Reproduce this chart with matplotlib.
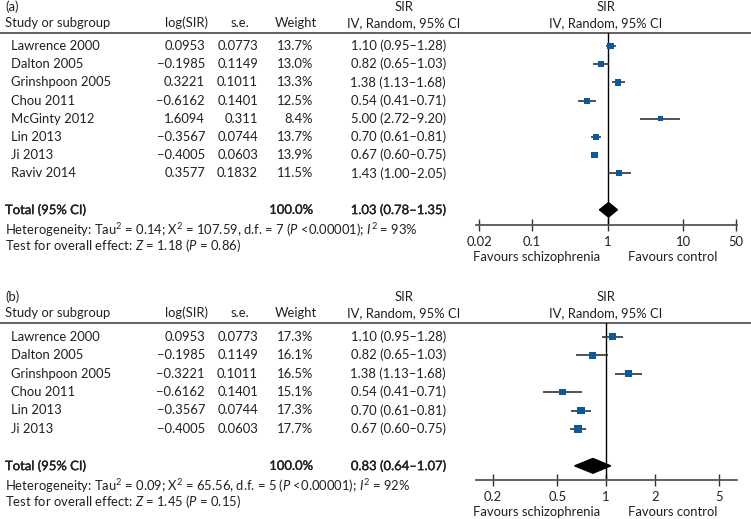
import numpy as np
import matplotlib.pyplot as plt
import matplotlib.patheffects as pe
from matplotlib.patches import Polygon

plt.rcParams['font.family'] = ['Lato', 'DejaVu Sans']
plt.rcParams['mathtext.fontset'] = 'custom'
plt.rcParams['mathtext.rm'] = 'Lato'
plt.rcParams['mathtext.it'] = 'Lato:italic'

# ---- data, panel (a)
studies_a = ['Lawrence 2000', 'Dalton 2005', 'Grinshpoon 2005', 'Chou 2011',
             'McGinty 2012', 'Lin 2013', 'Ji 2013', 'Raviv 2014']
logsir_a = ['0.0953', '\u22120.1985', '0.3221', '\u22120.6162', '1.6094', '\u22120.3567', '\u22120.4005', '0.3577']
se_a = ['0.0773', '0.1149', '0.1011', '0.1401', '0.311', '0.0744', '0.0603', '0.1832']
weight_a = [13.7, 13.0, 13.3, 12.5, 8.4, 13.7, 13.9, 11.5]
sir_a = [1.10, 0.82, 1.38, 0.54, 5.00, 0.70, 0.67, 1.43]
lo_a = [0.95, 0.65, 1.13, 0.41, 2.72, 0.61, 0.60, 1.00]
hi_a = [1.28, 1.03, 1.68, 0.71, 9.20, 0.81, 0.75, 2.05]
total_a = (1.03, 0.78, 1.35)
het_a = 'Heterogeneity: Tau$^2$ = 0.14; X$^2$ = 107.59, d.f. = 7 ($P$ <0.00001); $I^2$ = 93%'
test_a = 'Test for overall effect: $Z$ = 1.18 ($P$ = 0.86)'
ticks_a = [0.02, 0.1, 1, 10, 50]
ticklabels_a = ['0.02', '0.1', '1', '10', '50']

# ---- data, panel (b)
studies_b = ['Lawrence 2000', 'Dalton 2005', 'Grinshpoon 2005', 'Chou 2011', 'Lin 2013', 'Ji 2013']
logsir_b = ['0.0953', '\u22120.1985', '\u22120.3221', '\u22120.6162', '\u22120.3567', '\u22120.4005']
se_b = ['0.0773', '0.1149', '0.1011', '0.1401', '0.0744', '0.0603']
weight_b = [17.3, 16.1, 16.5, 15.1, 17.3, 17.7]
sir_b = [1.10, 0.82, 1.38, 0.54, 0.70, 0.67]
lo_b = [0.95, 0.65, 1.13, 0.41, 0.61, 0.60]
hi_b = [1.28, 1.03, 1.68, 0.71, 0.81, 0.75]
total_b = (0.83, 0.64, 1.07)
het_b = 'Heterogeneity: Tau$^2$ = 0.09; X$^2$ = 65.56, d.f. = 5 ($P$ <0.00001); $I^2$ = 92%'
test_b = 'Test for overall effect: $Z$ = 1.45 ($P$ = 0.15)'
ticks_b = [0.2, 0.5, 1, 2, 5]
ticklabels_b = ['0.2', '0.5', '1', '2', '5']

W, H = 751, 519
TXT = '#231f20'
BLUE = '#0b5a9e'
FS = 9.4
MEDIUM = [pe.withStroke(linewidth=0.25, foreground=TXT)]  # fake a medium weight

fig = plt.figure(figsize=(W / 100, H / 100), dpi=100)
bg = fig.add_axes([0, 0, 1, 1])
bg.set_xlim(0, W)
bg.set_ylim(H, 0)
bg.axis('off')


def t(x, y, s, ha='left', **kw):
    bg.text(x, y, s, ha=ha, va='center', fontsize=FS, color=TXT, **kw)


def panel(label, top, row0, step, names, logs, ses, wts, est, lo, hi, tot,
          het, test, ticks, tlabels, xlim, axis_y):
    # headers
    t(5, top, label)
    t(404, top, 'SIR', ha='center')
    t(606, top, 'SIR', ha='center')
    hy = top + 16
    t(5, hy, 'Study or subgroup')
    t(208, hy, 'log(SIR)', ha='right')
    t(240, hy, 's.e.', ha='center')
    t(317, hy, 'Weight', ha='right')
    t(404, hy, 'IV, Random, 95% CI', ha='center')
    t(606, hy, 'IV, Random, 95% CI', ha='center')
    line_y = hy + 9.5
    bg.plot([0, W], [line_y, line_y], color='#555555', lw=1.3)

    n = len(names)
    for i in range(n):
        y = row0 + i * step
        t(11, y, names[i])
        t(205, y, logs[i], ha='right')
        t(258, y, ses[i], ha='right')
        t(313, y, f'{wts[i]:.1f}%', ha='right')
        t(446, y, f'{est[i]:.2f} ({lo[i]:.2f}\u2013{hi[i]:.2f})', ha='right')
    ty = row0 + (n + 1) * step
    t(5, ty, 'Total (95% CI)', path_effects=MEDIUM)
    t(313, ty, '100.0%', ha='right', path_effects=MEDIUM)
    t(446, ty, f'{tot[0]:.2f} ({tot[1]:.2f}\u2013{tot[2]:.2f})', ha='right', path_effects=MEDIUM)
    t(5, ty + 20, het)
    t(5, ty + 36, test)

    # forest axes
    x0, x1 = 476, 737
    ax = fig.add_axes([x0 / W, 1 - axis_y / H, (x1 - x0) / W, (axis_y - line_y) / H])
    ax.set_xscale('log')
    ax.set_xlim(*xlim)
    ax.set_ylim((axis_y - row0) / step, (line_y - row0) / step)
    ax.patch.set_visible(False)
    for s in ['top', 'left', 'right']:
        ax.spines[s].set_visible(False)
    ax.spines['bottom'].set_color('#555555')
    ax.spines['bottom'].set_linewidth(1.3)
    ax.set_yticks([])
    ax.xaxis.set_minor_locator(plt.NullLocator())
    ax.set_xticks(ticks)
    ax.set_xticklabels(tlabels, fontsize=FS, color=TXT)
    ax.tick_params(axis='x', direction='inout', length=8, width=1, color='#333333', pad=4)
    ax.axvline(1, color='black', lw=1)
    yy = np.arange(n)
    ax.hlines(yy, lo, hi, color='#333333', lw=1.2)
    ax.scatter(est, yy, marker='s', s=[(1.25 * np.sqrt(w)) ** 2 for w in wts], color=BLUE,
               zorder=3, linewidths=0)
    h = 0.4
    ax.add_patch(Polygon([(tot[1], n + 1), (tot[0], n + 1 - h), (tot[2], n + 1), (tot[0], n + 1 + h)],
                         closed=True, color='black', zorder=3))
    t(600, axis_y + 32, 'Favours schizophrenia', ha='right')
    t(628, axis_y + 32, 'Favours control')


panel('(a)', 7, 46, 18.2, studies_a, logsir_a, se_a, weight_a, sir_a, lo_a, hi_a, total_a,
      het_a, test_a, ticks_a, ticklabels_a, (0.0182, 51.5), 225)
panel('(b)', 297, 336.7, 18.45, studies_b, logsir_b, se_b, weight_b, sir_b, lo_b, hi_b, total_b,
      het_b, test_b, ticks_b, ticklabels_b, (0.157, 6.46), 480)

fig.savefig('out.png', dpi=100)
